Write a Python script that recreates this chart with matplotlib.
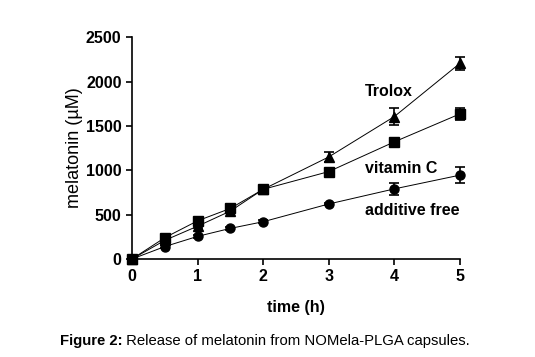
import matplotlib
matplotlib.use("Agg")
import matplotlib.pyplot as plt
from matplotlib.offsetbox import TextArea, HPacker, AnchoredOffsetbox

plt.rcParams['font.family'] = ['Liberation Sans', 'DejaVu Sans']

time = [0, 0.5, 1, 1.5, 2, 3, 4, 5]
trolox = [0, 210, 370, 540, 785, 1150, 1605, 2205]
trolox_err = [0, 20, 20, 20, 20, 55, 100, 75]
vitc = [0, 240, 430, 570, 785, 985, 1320, 1635]
vitc_err = [0, 20, 20, 20, 20, 20, 30, 70]
free = [0, 140, 255, 345, 420, 620, 790, 945]
free_err = [0, 15, 15, 15, 15, 15, 70, 90]

x_ticks = [0, 1, 2, 3, 4, 5]
y_ticks = [0, 500, 1000, 1500, 2000, 2500]
labels = ["Trolox", "vitamin C", "additive free"]

fig = plt.figure(figsize=(5.35, 3.57), dpi=100)
ax = fig.add_axes([0.2467, 0.2745, 0.613, 0.6215])

for y, e, m in [(trolox, trolox_err, '^'), (vitc, vitc_err, 's'), (free, free_err, 'o')]:
    ax.errorbar(time, y, yerr=e, color='black', marker=m, markersize=6.5,
                linewidth=0.7, elinewidth=1.2, capsize=3.5, capthick=1.2,
                clip_on=False, zorder=3)

ax.set_xlim(0, 5)
ax.set_ylim(0, 2500)
ax.set_xticks(x_ticks)
ax.set_yticks(y_ticks)
for s in ['top', 'right']:
    ax.spines[s].set_visible(False)
for s in ['left', 'bottom']:
    ax.spines[s].set_linewidth(1.2)
ax.tick_params(direction='out', length=4.5, width=1.2, labelsize=11.5, pad=3)
for lab in ax.get_xticklabels() + ax.get_yticklabels():
    lab.set_fontweight('bold')
ax.set_xlabel('time (h)', fontsize=11.5, fontweight='bold', labelpad=11)
ax.set_ylabel('melatonin (µM)', fontsize=13, labelpad=2)

ax.text(3.55, 1890, labels[0], fontsize=11.5, fontweight='bold', va='center', ha='left')
ax.text(3.55, 1025, labels[1], fontsize=11.5, fontweight='bold', va='center', ha='left')
ax.text(3.55, 552, labels[2], fontsize=11.5, fontweight='bold', va='center', ha='left')

ta1 = TextArea("Figure 2:", textprops=dict(fontsize=10.7, fontweight='bold'))
ta2 = TextArea(" Release of melatonin from NOMela-PLGA capsules.", textprops=dict(fontsize=10.7))
box = HPacker(children=[ta1, ta2], align='baseline', pad=0, sep=0)
ab = AnchoredOffsetbox(loc='center', child=box, frameon=False,
                       bbox_to_anchor=(0.495, 1 - 341 / 357), bbox_transform=fig.transFigure,
                       borderpad=0, pad=0)
fig.add_artist(ab)

fig.savefig('out.png', dpi=100)
